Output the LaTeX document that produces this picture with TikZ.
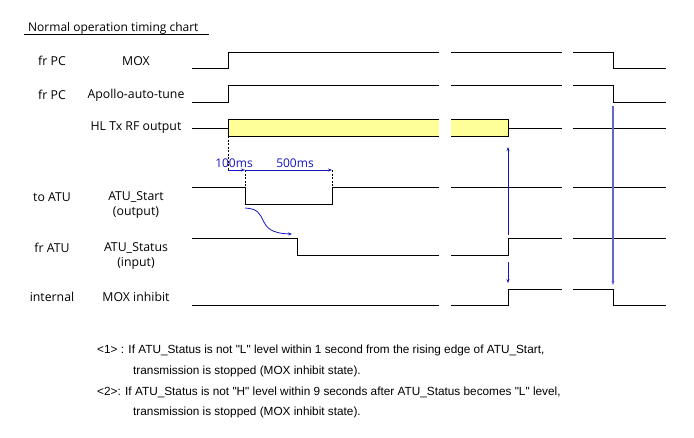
\documentclass[tikz,border=0pt]{standalone}
\usepackage{fontspec}
\setmainfont{Open Sans}
\newfontfamily\notefont{Liberation Sans}
\usetikzlibrary{arrows.meta, calc}
\definecolor{rfyellow}{RGB}{255,255,153}
\definecolor{markblue}{RGB}{20,20,190}
\definecolor{lightblue}{RGB}{100,100,210}

\begin{document}
\begin{tikzpicture}[x=1pt, y=-1pt,
    wave/.style={line width=0.9pt, black},
    lbl/.style={font=\fontsize{12.3}{15}\selectfont, align=center, inner sep=0pt},
    timelbl/.style={font=\fontsize{12}{14}\selectfont, text=markblue, inner sep=0pt},
    note/.style={font=\notefont\fontsize{11.8}{13}\selectfont, anchor=base west, inner sep=0pt},
    guide/.style={line width=0.6pt, dash pattern=on 2pt off 1.5pt},
    bluearrow/.style={markblue, line width=0.9pt, -{Stealth[length=4pt, width=3pt]}}]

    \useasboundingbox (0,0) rectangle (694,437);

    % title
    \node[lbl, anchor=base west, font=\fontsize{12}{14}\selectfont] (title) at (28,31) {Normal operation timing chart};
    \draw[line width=0.7pt] (24,34) -- (209,34);

    % signal sources and names
    \node[lbl] (srcmox) at (52,61) {fr PC};
    \node[lbl] (namemox) at (136,61) {MOX};
    \node[lbl] (srcapo) at (52,95) {fr PC};
    \node[lbl] (nameapo) at (136,95) {Apollo-auto-tune};
    \node[lbl] (namerf) at (136,128) {HL Tx RF output};
    \node[lbl] (srcstart) at (52,197) {to ATU};
    \node[lbl] (namestart) at (136,205) {ATU\_Start\\(output)};
    \node[lbl] (srcstat) at (52,248) {fr ATU};
    \node[lbl] (namestat) at (136,256) {ATU\_Status\\(input)};
    \node[lbl] (srcinh) at (52,297) {internal};
    \node[lbl] (nameinh) at (136,297) {MOX inhibit};

    % MOX
    \draw[wave] (192,68) -- (228,68) -- (228,52) -- (439,52);
    \draw[wave] (451,52) -- (562,52);
    \draw[wave] (573,52) -- (613,52) -- (613,68) -- (666,68);

    % Apollo-auto-tune
    \draw[wave] (192,102) -- (228,102) -- (228,85) -- (439,85);
    \draw[wave] (451,85) -- (562,85);
    \draw[wave] (573,85) -- (613,85) -- (613,102) -- (666,102);

    % HL Tx RF output
    \draw[wave] (192,128) -- (228,128);
    \fill[rfyellow] (228,119) rectangle (439,136);
    \draw[wave] (439,119) -- (228,119) -- (228,136) -- (439,136);
    \fill[rfyellow] (451,119) rectangle (508,136);
    \draw[wave] (451,119) -- (508,119) -- (508,136) -- (451,136);
    \draw[wave] (508,128) -- (562,128);
    \draw[wave] (573,128) -- (666,128);

    % delays after MOX
    \draw[guide] (228,136) -- (228,170);
    \draw[guide] (245,170) -- (245,187);
    \draw[guide] (332,170) -- (332,187);
    \node[timelbl] (t100) at (234,163) {100ms};
    \node[timelbl] (t500) at (295,163) {500ms};
    \coordinate (d0) at (228,170);
    \coordinate (d1) at (245,170);
    \coordinate (d2) at (332,170);
    \draw[bluearrow] (d0) -- (d1);
    \draw[bluearrow] (d1) -- (d2);

    % ATU_Start
    \draw[wave] (192,187) -- (245,187) -- (245,204) -- (332,204) -- (332,187) -- (439,187);
    \draw[wave] (451,187) -- (562,187);
    \draw[wave] (573,187) -- (666,187);

    % ATU_Status
    \draw[wave] (192,238) -- (297,238) -- (297,255) -- (439,255);
    \draw[wave] (451,255) -- (508,255) -- (508,238) -- (562,238);
    \draw[wave] (573,238) -- (666,238);

    % MOX inhibit
    \draw[wave] (192,305) -- (439,305);
    \draw[wave] (451,305) -- (508,305) -- (508,289) -- (562,289);
    \draw[wave] (573,289) -- (613,289) -- (613,305) -- (666,305);

    % causal marks
    \coordinate (cs) at (245,208);
    \coordinate (ce) at (292,234);
    \draw[bluearrow, line width=0.8pt] (cs) .. controls (272,209) and (252,233) .. (ce);
    \coordinate (up0) at (508,235);
    \coordinate (up1) at (508,147);
    \draw[bluearrow] (up0) -- (up1);
    \coordinate (dn0) at (508,262);
    \coordinate (dn1) at (508,283);
    \draw[bluearrow] (dn0) -- (dn1);
    \coordinate (st0) at (613,106);
    \coordinate (st1) at (613,285);
    \draw[bluearrow, lightblue, line width=1.2pt] (st0) -- (st1);

    % notes
    \node[note] (note1) at (97,353) {<1> : If ATU\_Status is not "L" level within 1 second from the rising edge of ATU\_Start,};
    \node[note] (note1b) at (133,374) {transmission is stopped (MOX inhibit state).};
    \node[note] (note2) at (97,395) {<2>: If ATU\_Status is not "H" level within 9 seconds after ATU\_Status becomes "L" level,};
    \node[note] (note2b) at (133,415) {transmission is stopped (MOX inhibit state).};
\end{tikzpicture}
\end{document}
